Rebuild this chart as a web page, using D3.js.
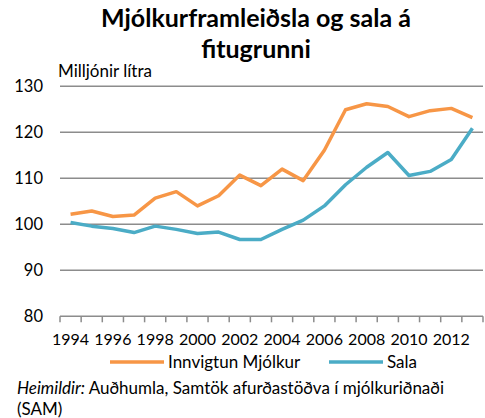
<!DOCTYPE html>
<html>
<head>
<meta charset="utf-8">
<script src="https://cdn.jsdelivr.net/npm/d3@7"></script>
<style>
  body { margin: 0; background: #fff; }
  text { font-family: Lato, "Open Sans", sans-serif; fill: #000; }
</style>
</head>
<body>
<div id="chart"></div>
<script>
var years = d3.range(1994, 2014);
var innvigtun = [102.2, 102.9, 101.7, 102.0, 105.7, 107.1, 104.0, 106.2, 110.7, 108.4,
                 112.0, 109.5, 116.1, 124.9, 126.2, 125.6, 123.4, 124.7, 125.2, 123.2];
var sala = [100.4, 99.6, 99.1, 98.2, 99.6, 98.9, 98.0, 98.3, 96.7, 96.7,
            98.9, 100.9, 104.0, 108.6, 112.4, 115.6, 110.6, 111.5, 114.1, 120.9];
var yTicks = [80, 90, 100, 110, 120, 130];
var seriesNames = ["Innvigtun Mjólkur", "Sala"];
var colors = ["#F79646", "#4BACC6"];

(function() {
  var width = 485, height = 418;
  var plotLeft = 60, plotRight = 483, plotTop = 86.3, plotBottom = 316.3;

  var svg = d3.select("#chart").append("svg")
      .attr("width", width)
      .attr("height", height);

  var x = d3.scaleBand().domain(years).range([plotLeft, plotRight]).padding(0);
  var y = d3.scaleLinear().domain([80, 130]).range([plotBottom, plotTop]);

  // title
  svg.append("text")
      .attr("x", 256).attr("y", 27)
      .attr("text-anchor", "middle")
      .style("font-size", "25px").style("font-weight", "bold")
      .text("Mjólkurframleiðsla og sala á");
  svg.append("text")
      .attr("x", 256).attr("y", 58)
      .attr("text-anchor", "middle")
      .style("font-size", "25px").style("font-weight", "bold")
      .text("fitugrunni");

  svg.append("text")
      .attr("x", 58).attr("y", 77)
      .style("font-size", "17px")
      .text("Milljónir lítra");

  // gridlines
  svg.selectAll(".grid")
      .data(yTicks.slice(1))
      .enter().append("line")
      .attr("class", "grid")
      .attr("x1", plotLeft).attr("x2", plotRight)
      .attr("y1", function(d) { return y(d); })
      .attr("y2", function(d) { return y(d); })
      .attr("stroke", "#8c8c8c")
      .attr("stroke-width", 1.5);

  // y labels
  svg.selectAll(".ylab")
      .data(yTicks)
      .enter().append("text")
      .attr("class", "ylab")
      .attr("x", 43)
      .attr("y", function(d) { return y(d); })
      .attr("dy", "0.35em")
      .attr("text-anchor", "end")
      .style("font-size", "16.5px")
      .text(function(d) { return d; });

  // x axis line + ticks at category boundaries
  svg.append("line")
      .attr("x1", plotLeft).attr("x2", plotRight)
      .attr("y1", plotBottom).attr("y2", plotBottom)
      .attr("stroke", "#8c8c8c").attr("stroke-width", 1.5);

  var bounds = years.map(function(d) { return x(d); }).concat([plotRight]);
  svg.selectAll(".xtick")
      .data(bounds)
      .enter().append("line")
      .attr("class", "xtick")
      .attr("x1", function(d) { return d; }).attr("x2", function(d) { return d; })
      .attr("y1", plotBottom).attr("y2", plotBottom + 6)
      .attr("stroke", "#8c8c8c").attr("stroke-width", 1.5);

  svg.selectAll(".xlab")
      .data(years.filter(function(d) { return d % 2 === 0; }))
      .enter().append("text")
      .attr("class", "xlab")
      .attr("x", function(d) { return x(d) + x.bandwidth() / 2; })
      .attr("y", 345)
      .attr("text-anchor", "middle")
      .style("font-size", "16px")
      .text(function(d) { return d; });

  // lines
  var line = d3.line()
      .x(function(d, i) { return x(years[i]) + x.bandwidth() / 2; })
      .y(function(d) { return y(d); });

  [innvigtun, sala].forEach(function(s, i) {
    svg.append("path")
        .datum(s)
        .attr("fill", "none")
        .attr("stroke", colors[i])
        .attr("stroke-width", 3.5)
        .attr("stroke-linejoin", "round")
        .attr("d", line);
  });

  // legend
  var legendX = [110, 329];
  seriesNames.forEach(function(name, i) {
    svg.append("line")
        .attr("x1", legendX[i]).attr("x2", legendX[i] + 54)
        .attr("y1", 362).attr("y2", 362)
        .attr("stroke", colors[i]).attr("stroke-width", 3.5);
    svg.append("text")
        .attr("x", legendX[i] + 58).attr("y", 362)
        .attr("dy", "0.35em")
        .style("font-size", "17px")
        .text(name);
  });

  // source
  var src = svg.append("text")
      .attr("x", 17).attr("y", 394)
      .style("font-size", "17px");
  src.append("tspan").style("font-style", "italic").text("Heimildir:");
  src.append("tspan").text(" Auðhumla, Samtök afurðastöðva í mjólkuriðnaði");
  svg.append("text")
      .attr("x", 17).attr("y", 415)
      .style("font-size", "17px")
      .text("(SAM)");
})();
</script>
</body>
</html>
